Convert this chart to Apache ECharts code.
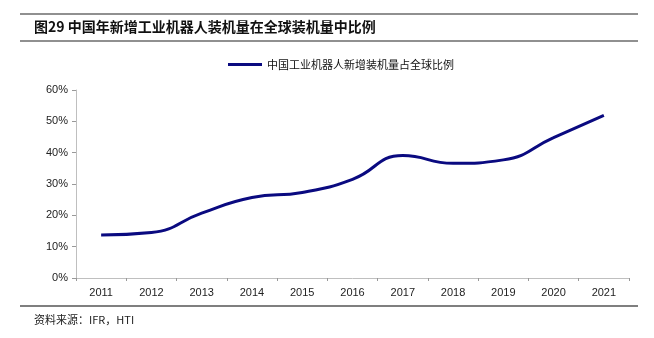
<!DOCTYPE html>
<html>
<head>
<meta charset="utf-8">
<script src="https://cdn.jsdelivr.net/npm/echarts@6/dist/echarts.min.js"></script>
<style>
  html, body { margin: 0; padding: 0; background: #fff; }
  #chart { width: 654px; height: 338px; }
</style>
</head>
<body>
<div id="chart"></div>
<script>
// Years on the category axis
const years = ['2011', '2012', '2013', '2014', '2015', '2016', '2017', '2018', '2019', '2020', '2021'];
// China's share of global new industrial robot installations (%)
const chinaShare = [13.7, 14.5, 20.7, 25.7, 27.3, 31.5, 39.1, 36.6, 37.7, 44.8, 51.9];
// Value axis ticks (%)
const yTicks = [0, 10, 20, 30, 40, 50, 60];

const seriesName = '中国工业机器人新增装机量占全球比例';
const titleText = '图29 中国年新增工业机器人装机量在全球装机量中比例';
const sourceText = '资料来源：IFR，HTI';

const chart = echarts.init(document.getElementById('chart'));

chart.setOption({
  animation: false,
  backgroundColor: '#fff',
  textStyle: { fontFamily: 'Arial, "Liberation Sans", "Noto Sans CJK SC"' },
  graphic: [
    { type: 'line', shape: { x1: 20, y1: 14, x2: 638, y2: 14 }, style: { stroke: '#6b6b6b', lineWidth: 1.5 } },
    { type: 'text', left: 34, top: 20, style: { text: titleText, font: 'bold 14px "Noto Sans CJK SC"', fill: '#111' } },
    { type: 'line', shape: { x1: 20, y1: 41, x2: 638, y2: 41 }, style: { stroke: '#6b6b6b', lineWidth: 1.5 } },
    { type: 'line', shape: { x1: 20, y1: 306, x2: 638, y2: 306 }, style: { stroke: '#555', lineWidth: 1.5 } },
    { type: 'text', left: 34, top: 314, style: { text: sourceText, font: '11px "Noto Sans CJK SC"', fill: '#222' } }
  ],
  legend: {
    top: 54,
    left: 223,
    itemWidth: 34,
    itemHeight: 3,
    itemGap: 4,
    icon: 'rect',
    textStyle: { fontSize: 11, color: '#111', fontFamily: '"Noto Sans CJK SC"' },
    data: [seriesName]
  },
  grid: { left: 76, right: 25, top: 90, bottom: 60, containLabel: false },
  xAxis: {
    type: 'category',
    data: years,
    boundaryGap: true,
    axisLine: { lineStyle: { color: '#bfbfbf', width: 1 } },
    axisTick: { show: true, length: 3, lineStyle: { color: '#999' } },
    axisLabel: { color: '#222', fontSize: 11, margin: 9 }
  },
  yAxis: {
    type: 'value',
    min: yTicks[0],
    max: yTicks[yTicks.length - 1],
    interval: 10,
    axisLine: { show: true, lineStyle: { color: '#bfbfbf', width: 1 } },
    axisTick: { show: true, length: 4, lineStyle: { color: '#999' } },
    splitLine: { show: false },
    axisLabel: { color: '#222', fontSize: 11, margin: 8, formatter: v => v + '%' }
  },
  series: [{
    name: seriesName,
    type: 'line',
    data: chinaShare,
    smooth: 0.5,
    symbol: 'none',
    lineStyle: { color: '#0a0a80', width: 3 },
    itemStyle: { color: '#0a0a80' }
  }]
});
</script>
</body>
</html>
